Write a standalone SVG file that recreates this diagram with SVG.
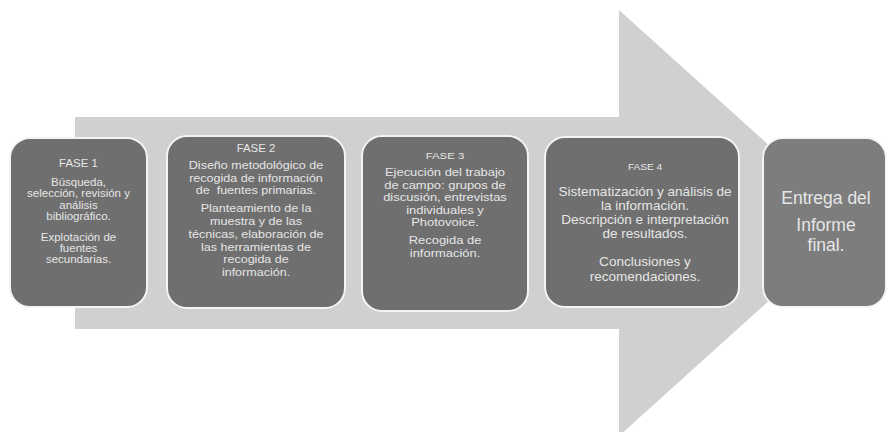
<svg xmlns="http://www.w3.org/2000/svg" width="891" height="432" viewBox="0 0 891 432">
<style>
.box{fill:#6f6f6f;stroke:#f4f4f4;stroke-width:2}
.fin{fill:#7d7d7d;stroke:#f4f4f4;stroke-width:2}
text{font-family:"Liberation Sans",Arial,sans-serif;fill:#e6e6e6;text-anchor:middle}
</style>
<rect width="891" height="432" fill="#ffffff"/>
<g id="connectors">
<path d="M75,117 H619 V10 L855,223 L619,436 V329 H75 Z" fill="#d0d0d0"/>
</g>
<g id="fase1">
<rect class="box" x="10" y="138" width="137" height="169" rx="20"/>
<g transform="translate(78.5 0) scale(1.15 1)" font-size="10">
<text x="0" y="167">FASE 1</text>
<text x="0" y="186">Búsqueda,</text>
<text x="0" y="197.5">selección, revisión y</text>
<text x="0" y="209">análisis</text>
<text x="0" y="220.5">bibliográfico.</text>
<text x="0" y="241">Explotación de</text>
<text x="0" y="252">fuentes</text>
<text x="0" y="263">secundarias.</text>
</g>
</g>
<g id="fase2">
<rect class="box" x="167" y="136" width="178" height="172" rx="20"/>
<g transform="translate(256 0) scale(1.14 1)" font-size="11">
<text x="0" y="152" font-size="10">FASE 2</text>
<text x="0" y="169.5">Diseño metodológico de</text>
<text x="0" y="181.8">recogida de información</text>
<text x="0" y="194.1" xml:space="preserve">de  fuentes primarias.</text>
<text x="0" y="212.5">Planteamiento de la</text>
<text x="0" y="225.2">muestra y de las</text>
<text x="0" y="237.9">técnicas, elaboración de</text>
<text x="0" y="250.6">las herramientas de</text>
<text x="0" y="263.3">recogida de</text>
<text x="0" y="276">información.</text>
</g>
</g>
<g id="fase3">
<rect class="box" x="362" y="136" width="166" height="175" rx="20"/>
<g transform="translate(445 0) scale(1.2 1)" font-size="10.8">
<text x="0" y="159" font-size="9.5">FASE 3</text>
<text x="0" y="176.5">Ejecución del trabajo</text>
<text x="0" y="189">de campo: grupos de</text>
<text x="0" y="201.5">discusión, entrevistas</text>
<text x="0" y="214">individuales y</text>
<text x="0" y="226.5">Photovoice.</text>
<text x="0" y="244.5">Recogida de</text>
<text x="0" y="257">información.</text>
</g>
</g>
<g id="fase4">
<rect class="box" x="545" y="137" width="194" height="170" rx="20"/>
<g transform="translate(645 0) scale(1.12 1)" font-size="12.1">
<text x="0" y="170.5" font-size="9">FASE 4</text>
<text x="0" y="196.5">Sistematización y análisis de</text>
<text x="0" y="210.5">la información.</text>
<text x="0" y="224.5">Descripción e interpretación</text>
<text x="0" y="238.5">de resultados.</text>
<text x="0" y="266.5">Conclusiones y</text>
<text x="0" y="281">recomendaciones.</text>
</g>
</g>
<g id="entrega">
<rect class="fin" x="763" y="138" width="123" height="169" rx="20"/>
<text font-size="17.5" x="826" y="204">Entrega del</text>
<text font-size="17.5" x="826" y="231">Informe</text>
<text font-size="17.5" x="826" y="251">final.</text>
</g>
</svg>
